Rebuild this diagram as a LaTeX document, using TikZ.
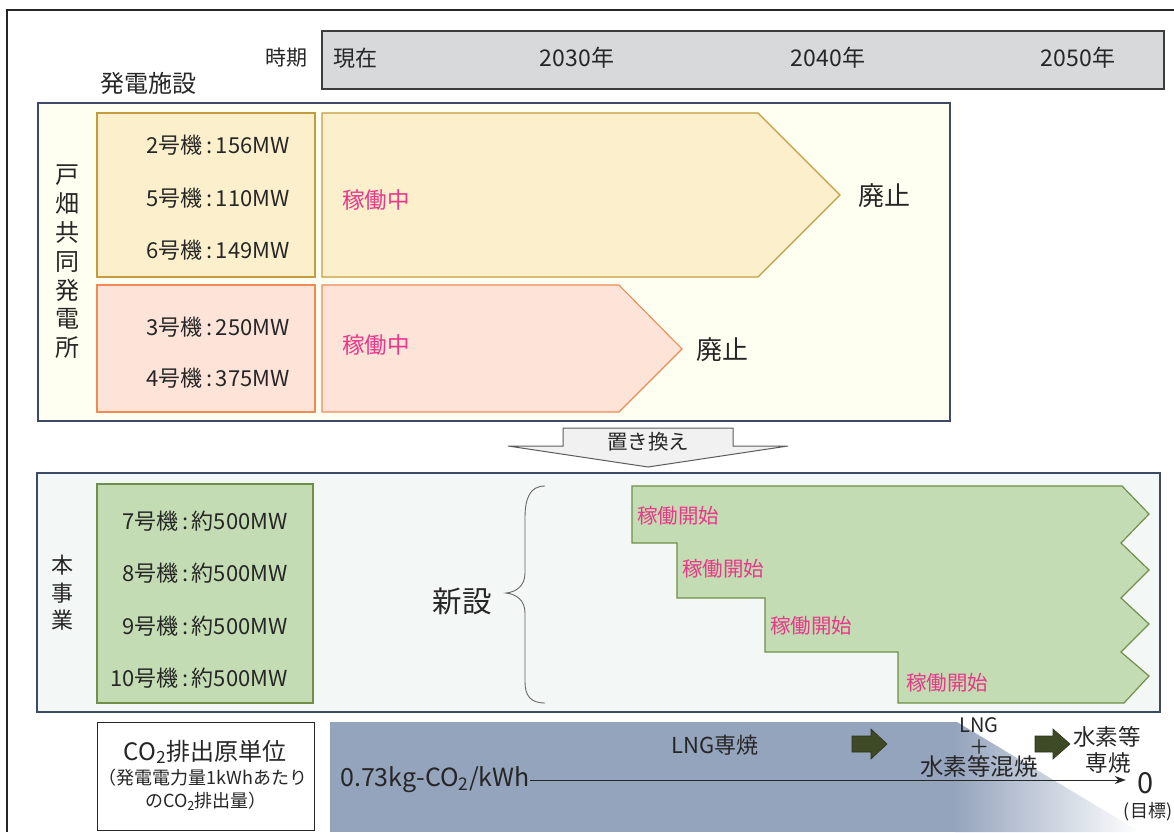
\documentclass[tikz,border=0pt]{standalone}
\usepackage{fontspec}
\setmainfont{Noto Sans CJK JP}
\usetikzlibrary{arrows.meta}
\definecolor{txt}{HTML}{262626}
\definecolor{hdrfill}{HTML}{D8D9DB}
\definecolor{panelline}{HTML}{3C4A68}
\definecolor{topbg}{HTML}{FEFEF1}
\definecolor{botbg}{HTML}{F3F8F6}
\definecolor{yfill}{HTML}{FCF0CC}
\definecolor{yline}{HTML}{C49C40}
\definecolor{pfill}{HTML}{FDE3D8}
\definecolor{pline}{HTML}{EE8C54}
\definecolor{gfill}{HTML}{C4DCB3}
\definecolor{gline}{HTML}{6F8F4A}
\definecolor{pinktxt}{HTML}{E8388A}
\definecolor{bluefill}{HTML}{95A4BD}
\definecolor{darkarrow}{HTML}{3D4A25}
\definecolor{replfill}{HTML}{F1F1F1}
\begin{document}
\begin{tikzpicture}[x=1pt,y=-1pt,
  every node/.style={inner sep=0pt, text=txt},
  fs/.style 2 args={font=\fontsize{#1}{#2}\selectfont},
  panel/.style={draw=panelline, line width=1.2pt},
  pinklab/.style={fs={22.5}{26}, text=pinktxt, anchor=west},
  unitlab/.style={fs={22}{26}, anchor=east},
  darr/.style={fill=darkarrow, draw=darkarrow!70!black, line width=0.6pt}]
\useasboundingbox (0,0) rectangle (1174,832);
\fill[white] (0,0) rectangle (1174,832);
% outer frame
\draw[line width=1.3pt, draw=txt] (1174,10) -- (7,10) -- (7,832);
% header
\draw[fill=hdrfill, draw=txt!90, line width=1.2pt] (322,31) rectangle (1164,89);
\node[fs={21}{25}] (tp) at (286,58) {時期};
\node[fs={22}{26}] (t0) at (355,58) {現在};
\node[fs={23}{27}] (t1) at (577,58) {2030年};
\node[fs={23}{27}] (t2) at (828,58) {2040年};
\node[fs={23}{27}] (t3) at (1078,58) {2050年};
\node[fs={24}{28}] (fac) at (148,83) {発電施設};
% top panel
\draw[panel, fill=topbg] (38,103) rectangle (950,421);
\node[fs={24}{28.8}, align=center] (tobata) at (67,262) {戸\\畑\\共\\同\\発\\電\\所};
\draw[fill=yfill, draw=yline, line width=1.1pt] (97,113) rectangle (315,277);
\draw[fill=yfill, draw=yline, line width=1.1pt] (322,113) -- (758,113) -- (840,195) -- (758,277) -- (322,277) -- cycle;
\node[unitlab] (u2) at (290,145) {2号機\,:\,156MW};
\node[unitlab] (u5) at (290,198) {5号機\,:\,110MW};
\node[unitlab] (u6) at (290,250) {6号機\,:\,149MW};
\node[pinklab] (op1) at (342,200) {稼働中};
\node[fs={26}{30}] (ab1) at (884,196) {廃止};
\draw[fill=pfill, draw=pline, line width=1.1pt] (97,285) rectangle (315,412);
\draw[fill=pfill, draw=pline, line width=1.1pt] (322,285) -- (619,285) -- (682,349) -- (619,412) -- (322,412) -- cycle;
\node[unitlab] (u3) at (290,327) {3号機\,:\,250MW};
\node[unitlab] (u4) at (290,378) {4号機\,:\,375MW};
\node[pinklab] (op2) at (342,345) {稼働中};
\node[fs={26}{30}] (ab2) at (722,350) {廃止};
% replacement arrow
\draw[fill=replfill, draw=txt!75, line width=1pt] (563,428) -- (733,428) -- (733,446) -- (788,446) -- (648,467) -- (508,446) -- (563,446) -- cycle;
\node[fs={20.5}{25}] (repl) at (648,442) {置き換え};
% bottom panel
\draw[panel, fill=botbg] (37,473) rectangle (1160,712);
\node[fs={22}{27.5}, align=center] (hon) at (62,593) {本\\事\\業};
\draw[fill=gfill, draw=gline, line width=1.1pt] (97,484) rectangle (313,703);
\node[unitlab] (u7) at (288,521) {7号機\,:\,約500MW};
\node[unitlab] (u8) at (288,573) {8号機\,:\,約500MW};
\node[unitlab] (u9) at (288,626) {9号機\,:\,約500MW};
\node[unitlab] (u10) at (288,678) {10号機\,:\,約500MW};
\node[fs={29.5}{33}] (new) at (462,601) {新設};
\draw[draw=txt!70, line width=0.9pt] (545,486) .. controls (530,486) and (525,498) .. (525,518) -- (525,573) .. controls (525,586) and (516,592) .. (506,593) .. controls (516,594) and (525,600) .. (525,613) -- (525,682) .. controls (525,695) and (530,703) .. (545,703);
\draw[fill=gfill, draw=gline, line width=1.2pt] (632,486) -- (1122,486) -- (1149,514) -- (1121,543) -- (1149,570) -- (1121,598) -- (1149,624) -- (1121,652) -- (1149,676) -- (1124,703) -- (898,703) -- (898,652) -- (765,652) -- (765,598) -- (677,598) -- (677,543) -- (632,543) -- cycle;
\node[pinklab, fs={20.5}{24}] (s1) at (637,516) {稼働開始};
\node[pinklab, fs={20.5}{24}] (s2) at (682,569) {稼働開始};
\node[pinklab, fs={20.5}{24}] (s3) at (770,626) {稼働開始};
\node[pinklab, fs={20.5}{24}] (s4) at (906,683) {稼働開始};
% CO2 section
\draw[fill=white, draw=txt, line width=1pt] (97,722) rectangle (314,830);
\node[fs={24}{28}] (co2a) at (205,752) {CO\textsubscript{2}排出原単位};
\node[fs={18}{21}] (co2b) at (203,778) {（発電電力量1kWhあたり};
\node[fs={18}{21}] (co2c) at (206,801) {のCO\textsubscript{2}排出量）};
\fill[bluefill] (330,722) rectangle (956,832);
\shade[left color=bluefill, right color=white] (955,722) -- (957,722) -- (1140,832) -- (955,832) -- cycle;
\node[fs={25}{29}] (val) at (435,780) {0.73kg-CO\textsubscript{2}/kWh};
\node[fs={29}{33}] (zero) at (1146,783) {0};
\node[fs={18}{21}] (goal) at (1148,812) {(目標)};
\draw[line width=1pt, draw=txt, -{Stealth[length=11pt,width=8pt]}, shorten >=12pt] (val.east) -- (val.east -| zero.west);
\node[fs={22}{26}] (lng) at (715,745) {LNG専焼};
\draw[darr] (852,736) -- (871,736) -- (871,729) -- (887,744) -- (871,759) -- (871,752) -- (852,752) -- cycle;
\node[fs={20}{24}] (lng2) at (979,725) {LNG};
\node[fs={20}{24}] (plus) at (979,747) {＋};
\node[fs={23.5}{27}] (mix) at (979,767) {水素等混焼};
\draw[darr] (1035,736) -- (1053,736) -- (1053,729) -- (1070,744) -- (1053,759) -- (1053,752) -- (1035,752) -- cycle;
\node[fs={22.5}{26}] (h2a) at (1107,737) {水素等};
\node[fs={22.5}{26}] (h2b) at (1108,763) {専焼};
\end{tikzpicture}
\end{document}
